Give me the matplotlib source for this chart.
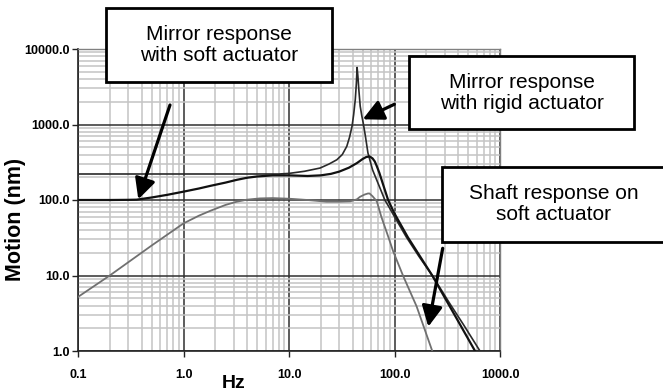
import numpy as np
import matplotlib.pyplot as plt
from matplotlib.patches import Rectangle, FancyArrowPatch
from matplotlib.ticker import FixedLocator, LogLocator, NullFormatter

plt.rcParams['font.family'] = ['Liberation Sans', 'DejaVu Sans']

# mirror response, soft actuator
soft_hz = [0.1, 0.2, 0.3, 0.36, 0.5, 0.7, 1.0, 1.4, 1.8, 2.5, 3.2, 4.0, 5.0, 7.0, 10, 15, 20, 25, 30,
           37, 44, 50, 54, 58, 62, 65, 68, 72, 78, 87, 98, 104, 134, 170, 228, 297, 400, 580]
soft_nm = [100, 100, 100.5, 101, 108, 117, 129, 142, 154, 170, 185, 197, 205, 212, 212, 208, 212, 222, 238,
           268, 308, 350, 371, 378, 355, 324, 280, 227, 160, 100, 70, 60, 32, 19, 10, 5.2, 2.5, 1.0]

# mirror response, rigid actuator
rigid_hz = [0.1, 1.0, 5.0, 8.0, 10, 14, 19.7, 24, 28.4, 32, 35.3, 37.5, 39.6, 41, 42.5, 43.5, 44.2,
            45, 46, 47.3, 49, 50.5, 53, 56, 62, 72, 81, 90, 100, 115, 130, 170, 228, 336, 450, 646]
rigid_nm = [221, 221, 221, 221, 225, 240, 265, 300, 341, 400, 514, 680, 950, 1350, 2150, 3500, 5700,
            4300, 2800, 1750, 1300, 1050, 700, 420, 250, 150, 100, 78, 60, 43, 32, 18, 10, 4.2, 2.24, 1.0]

# shaft response, soft actuator
shaft_hz = [0.1, 0.2, 0.5, 1.0, 1.4, 1.8, 2.5, 3.2, 4.0, 5.3, 7.0, 10, 15, 22.7, 30, 38, 44, 47, 52,
            56, 58, 62, 68, 75, 87, 97, 121, 162, 228]
shaft_nm = [5.2, 10, 25, 49, 62, 72, 86, 95, 101, 105, 106, 104, 100, 95, 95, 96, 102, 110, 118,
            122, 122, 112, 96, 60, 33, 21, 9.8, 3.9, 1.0]

x_ticks = [0.1, 1, 10, 100, 1000]
y_ticks = [1, 10, 100, 1000, 10000]

W, H = 663, 392


def fx(x):
    return x / W


def fy(y):
    return 1 - y / H


fig = plt.figure(figsize=(6.63, 3.92), dpi=100)
ax = fig.add_axes([fx(78), fy(351), (500 - 78) / W, (351 - 49) / H])
ax.set_xscale('log')
ax.set_yscale('log')
ax.set_xlim(0.1, 1000)
ax.set_ylim(1, 10000)

ax.plot(rigid_hz, rigid_nm, color='#2a2a2a', lw=1.2, zorder=3)
ax.plot(shaft_hz, shaft_nm, color='#707070', lw=1.3, zorder=3)
ax.plot(soft_hz, soft_nm, color='#111111', lw=1.6, zorder=4)

ax.xaxis.set_major_locator(FixedLocator(x_ticks))
ax.yaxis.set_major_locator(FixedLocator(y_ticks))
ax.xaxis.set_minor_locator(LogLocator(base=10, subs=np.arange(2, 10)))
ax.yaxis.set_minor_locator(LogLocator(base=10, subs=np.arange(2, 10)))
ax.xaxis.set_minor_formatter(NullFormatter())
ax.yaxis.set_minor_formatter(NullFormatter())
ax.set_xticklabels(['%.1f' % t for t in x_ticks])
ax.set_yticklabels(['%.1f' % t for t in y_ticks])

ax.grid(which='minor', color='#c4c4c4', lw=1.1, zorder=0)
ax.grid(which='major', color='#303030', lw=1.1, zorder=1)
ax.set_axisbelow(True)

ax.tick_params(which='major', direction='out', length=4, width=1, color='#222222')
ax.tick_params(which='minor', length=0)
ax.tick_params(axis='x', pad=9)
ax.tick_params(axis='y', pad=2)
for lab in ax.get_xticklabels() + ax.get_yticklabels():
    lab.set_fontsize(9)
    lab.set_fontweight('bold')

for side in ['left', 'bottom']:
    ax.spines[side].set_color('#222222')
    ax.spines[side].set_linewidth(1.2)
for side in ['top', 'right']:
    ax.spines[side].set_color('#808080')
    ax.spines[side].set_linewidth(1.0)

fig.text(fx(16), fy(219), 'Motion (nm)', rotation=90, ha='center', va='center',
         fontsize=15.5, fontweight='bold')
fig.text(fx(234), fy(383), 'Hz', ha='center', va='center', fontsize=14, fontweight='bold')

# call-out boxes
boxes = [
    (106, 8, 331.7, 82, 'Mirror response\nwith soft actuator'),
    (409.3, 56, 634.3, 129.3, 'Mirror response\nwith rigid actuator'),
    (441.7, 166.7, 668, 241.7, 'Shaft response on\nsoft actuator'),
]
for x0, y0, x1, y1, txt in boxes:
    fig.add_artist(Rectangle((fx(x0), fy(y1)), fx(x1 - x0), (y1 - y0) / H,
                             transform=fig.transFigure, facecolor='white',
                             edgecolor='black', lw=2, zorder=5))
    fig.text(fx((x0 + min(x1, 665)) / 2), fy((y0 + y1) / 2), txt, ha='center', va='center',
             fontsize=15, linespacing=1.15, zorder=6)

arrows = [
    ((170, 105), (138.3, 199.3)),
    ((394.3, 104.3), (362.7, 119.3)),
    ((442.7, 248.3), (428.3, 326.7)),
]
for (tx, ty), (hx, hy) in arrows:
    fig.add_artist(FancyArrowPatch((fx(tx), fy(ty)), (fx(hx), fy(hy)),
                                   transform=fig.transFigure,
                                   arrowstyle='-|>,head_length=1.0,head_width=0.5',
                                   mutation_scale=12.5, color='black', lw=2.3,
                                   shrinkA=0, shrinkB=0, zorder=7))

plt.savefig('out.png', dpi=100)
